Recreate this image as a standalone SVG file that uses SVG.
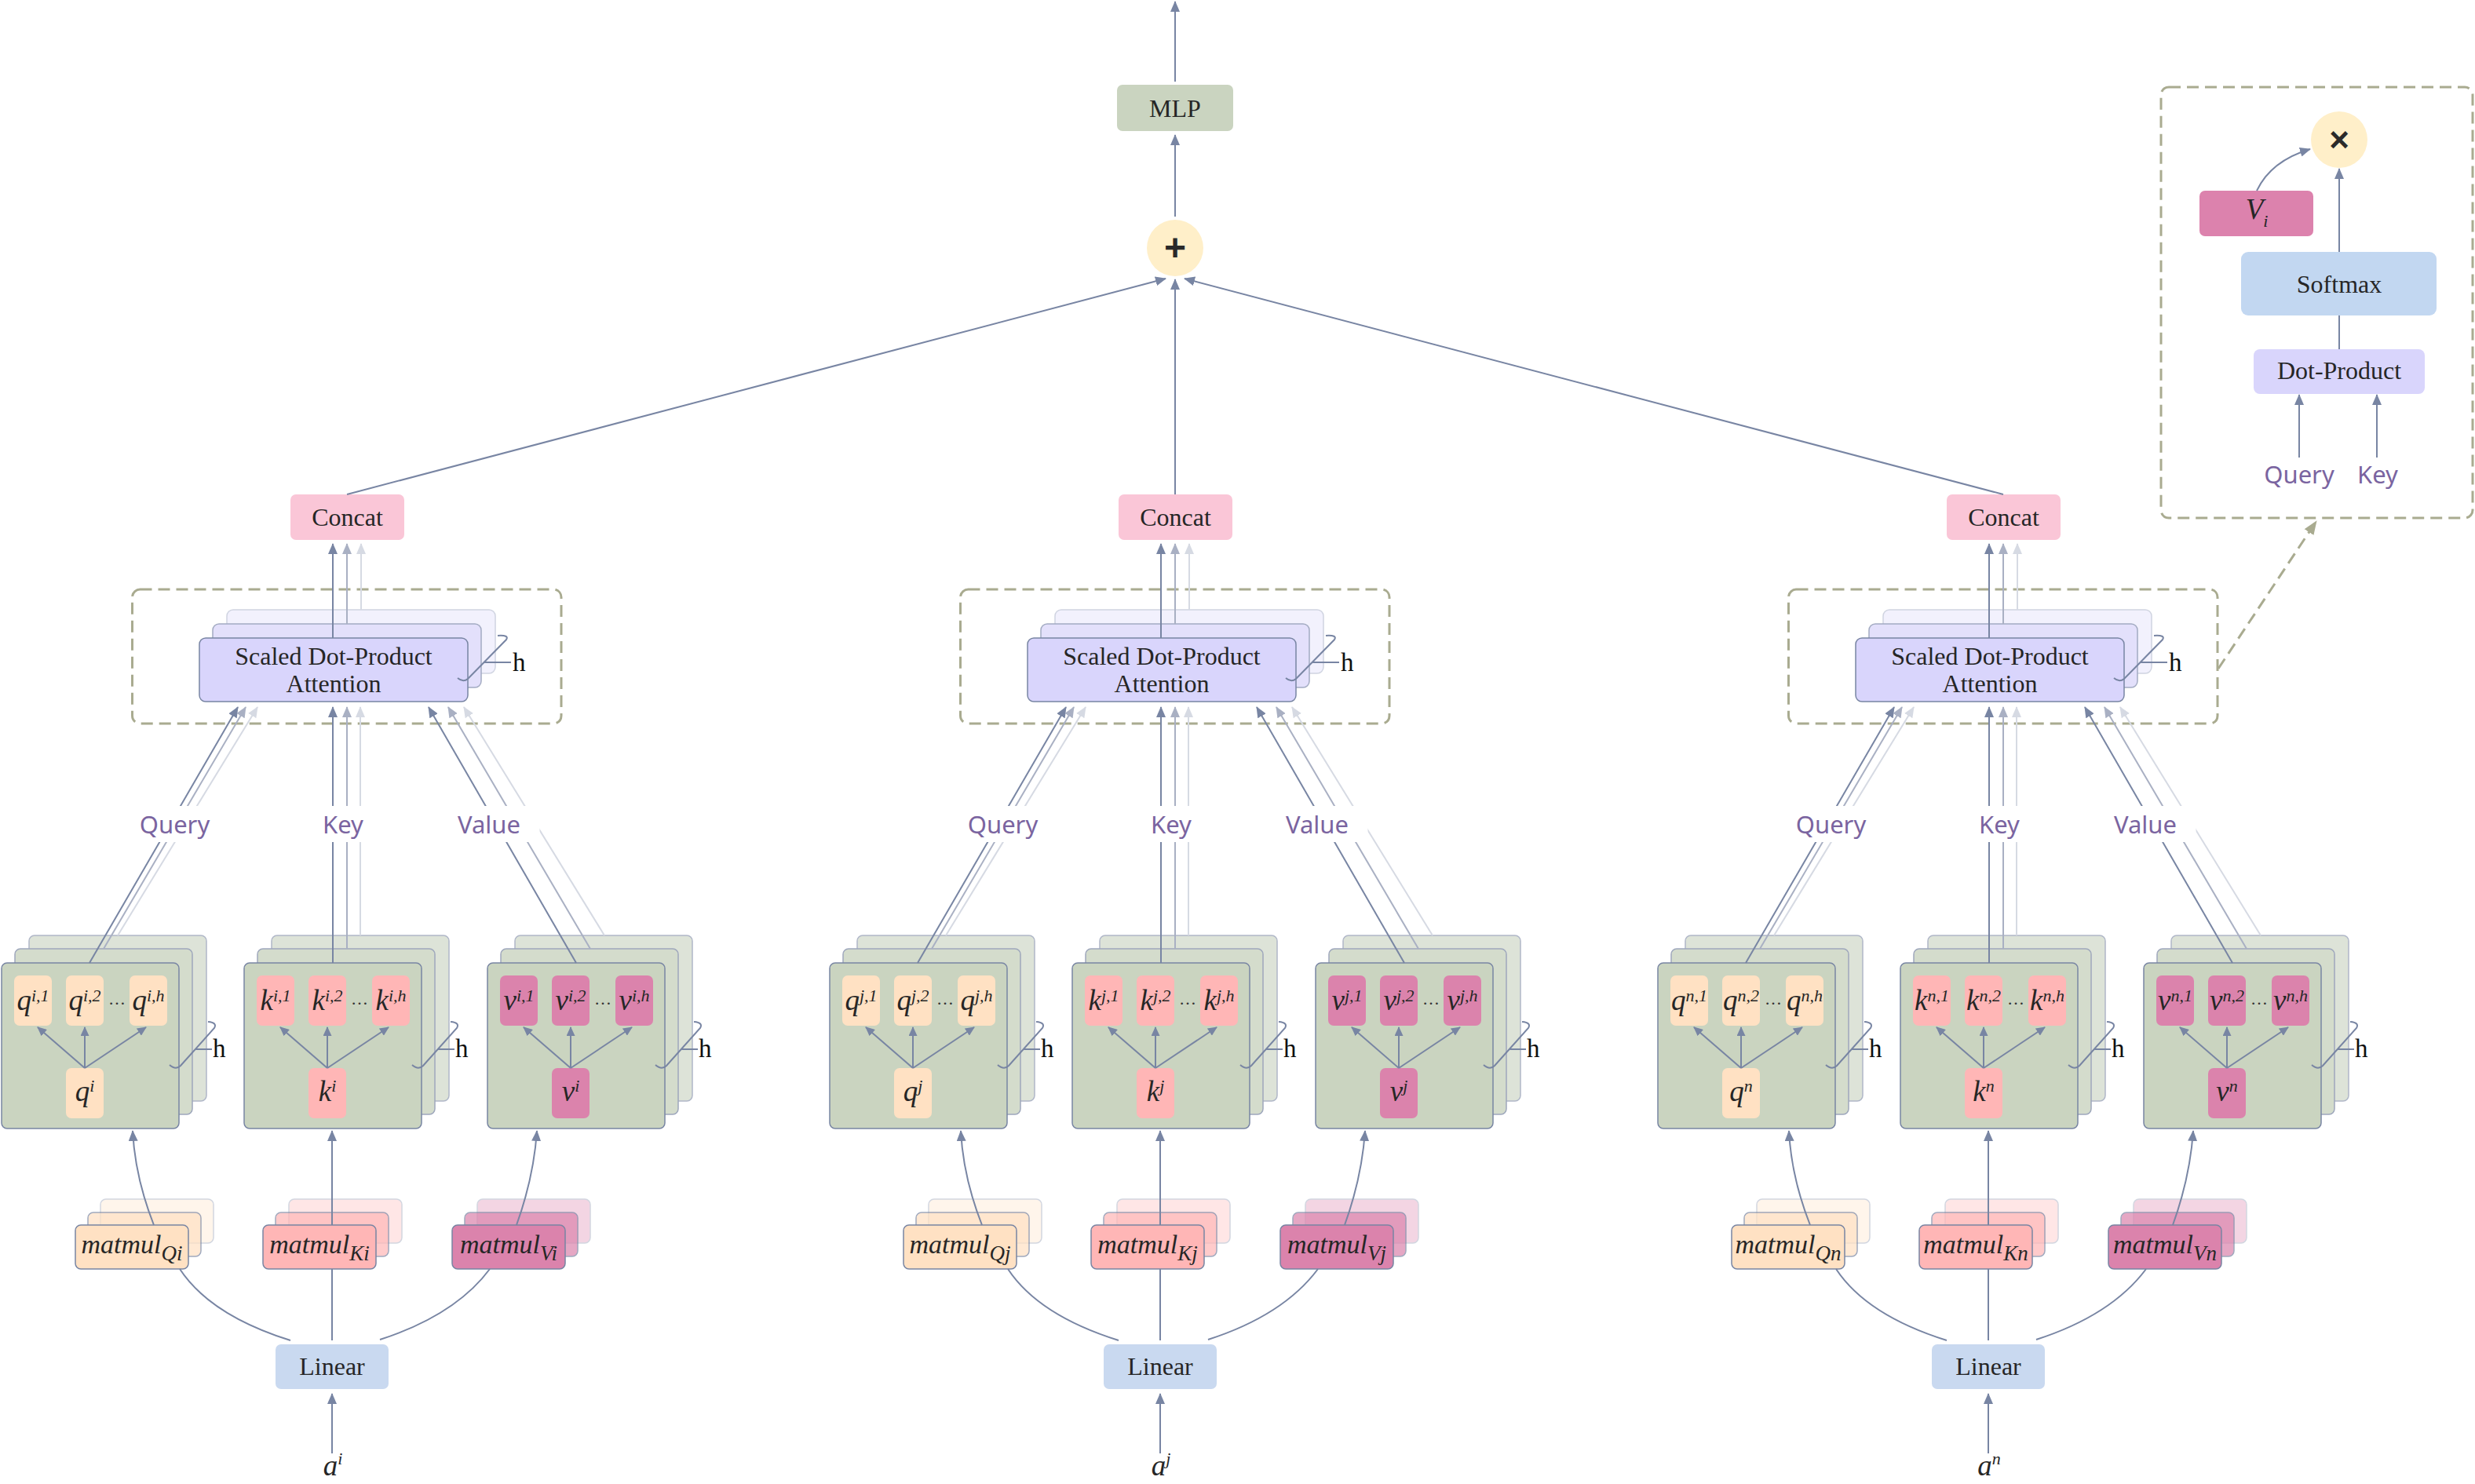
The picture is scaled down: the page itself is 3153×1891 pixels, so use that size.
<svg xmlns="http://www.w3.org/2000/svg" width="3153" height="1891" viewBox="0 0 3153 1891">
<style>
.e1{fill:none;stroke:#7885a3;stroke-width:2;marker-end:url(#ah)}
.e2{fill:none;stroke:#a9b0c3;stroke-width:2;marker-end:url(#ah2)}
.e3{fill:none;stroke:#d6dae3;stroke-width:2;marker-end:url(#ah3)}
.ei{fill:none;stroke:#7885a3;stroke-width:2;marker-end:url(#ahs)}
.s1{fill:none;stroke:#7885a3;stroke-width:2}
.g1{fill:#cad4c0;stroke:#7885a3;stroke-width:1.5}
.g2{fill:#d4dccc;stroke:#9ea7bc;stroke-width:1.5}
.g3{fill:#dde3d8;stroke:#b0b7c8;stroke-width:1.5}
.qb{fill:#ffe1c3}.kb{fill:#ffb6b6}.vb{fill:#db83ac}
.mq{fill:#ffe1c3;stroke:#7885a3;stroke-width:1.5}
.mk{fill:#ffb6b6;stroke:#7885a3;stroke-width:1.5}
.mv{fill:#db83ac;stroke:#7885a3;stroke-width:1.5}
.o7{opacity:.7}.o3{opacity:.33}
.at1{fill:#d9d5fc;stroke:#7885a3;stroke-width:1.5}
.at2{fill:#e3e0fb;stroke:#a3abc2;stroke-width:1.5}
.at3{fill:#f2f1fd;stroke:#d0d4e1;stroke-width:1.5}
.dash{fill:none;stroke:#a9ab90;stroke-width:3;stroke-dasharray:15 8}
.br{fill:none;stroke:#7885a3;stroke-width:2}
.t{font-family:"Liberation Serif","Times New Roman",serif;font-size:32px;fill:#262626;text-anchor:middle}
.i{font-style:italic}
.m{font-size:37px}
.mm{font-size:34px}
.sp{font-size:22px}
.sb{font-size:27px}
.h{font-family:"Liberation Serif","Times New Roman",serif;font-size:33px;fill:#111}
.dots{font-family:"Liberation Serif","Times New Roman",serif;font-size:22px;fill:#333;text-anchor:middle}
.lb{font-family:"Noto Sans","Liberation Sans",sans-serif;font-size:31px;fill:#7a64a0;text-anchor:middle}
.wb{fill:#ffffff}
</style>
<defs>
<marker id="ah" viewBox="0 0 14 12" refX="13" refY="6" markerWidth="14" markerHeight="12" markerUnits="userSpaceOnUse" orient="auto"><path d="M0,0 L14,6 L0,12 z" fill="#7885a3"/></marker>
<marker id="ah2" viewBox="0 0 14 12" refX="13" refY="6" markerWidth="14" markerHeight="12" markerUnits="userSpaceOnUse" orient="auto"><path d="M0,0 L14,6 L0,12 z" fill="#a9b0c3"/></marker>
<marker id="ah3" viewBox="0 0 14 12" refX="13" refY="6" markerWidth="14" markerHeight="12" markerUnits="userSpaceOnUse" orient="auto"><path d="M0,0 L14,6 L0,12 z" fill="#d6dae3"/></marker>
<marker id="ahs" viewBox="0 0 12 11" refX="11" refY="5.5" markerWidth="12" markerHeight="11" markerUnits="userSpaceOnUse" orient="auto"><path d="M0,0 L12,5.5 L0,11 z" fill="#7885a3"/></marker>
<marker id="aho" viewBox="0 0 18 14" refX="17" refY="7" markerWidth="18" markerHeight="14" markerUnits="userSpaceOnUse" orient="auto"><path d="M0,0 L18,7 L0,14 z" fill="#a9ab90"/></marker>
</defs>
<rect width="3153" height="1891" fill="#ffffff"/>

<g id="mlp"><rect x="1423" y="108" width="148" height="59" rx="7" fill="#cad4c0"/><text class="t" x="1497" y="149">MLP</text></g>
<g id="add"><circle cx="1497" cy="316" r="36" fill="#ffefc9"/><text x="1497" y="332" font-family="Liberation Sans, Arial, sans-serif" font-weight="bold" font-size="48" text-anchor="middle" fill="#2a2a2a">+</text></g>

<!-- ===== BLOCK i ===== -->
<g id="block-i">
 <g id="attention-i">
  <rect class="dash" x="168.5" y="751" width="546.5" height="171" rx="10"/>
  <rect class="at3" x="289" y="777" width="342" height="81" rx="8"/>
  <rect class="at2" x="271" y="795" width="342" height="81" rx="8"/>
  <rect class="at1" x="254" y="813" width="342" height="81" rx="8"/>
  <text class="t" x="425" y="847">Scaled Dot-Product</text>
  <text class="t" x="425" y="882">Attention</text>
  <path class="br" d="M583,864 Q590,870 596,865 L645,815 Q649,809 634,810 M617,844 H651"/>
  <text class="h" x="653" y="855">h</text>
 </g>
 <g id="concat-i"><rect x="370" y="630" width="145" height="58" rx="7" fill="#fac6d7"/><text class="t" x="442.5" y="670">Concat</text></g>
 <g id="q-heads-i">
  <rect class="g3" x="37" y="1192" width="226" height="211" rx="7"/>
  <rect class="g2" x="19" y="1209" width="226" height="211" rx="7"/>
  <rect class="g1" x="2" y="1227" width="226" height="211" rx="7"/>
  <rect class="qb" x="18" y="1243" width="48" height="64" rx="7"/>
  <rect class="qb" x="84" y="1243" width="48" height="64" rx="7"/>
  <rect class="qb" x="165" y="1243" width="48" height="64" rx="7"/>
  <rect class="qb" x="84" y="1361" width="48" height="64" rx="7"/>
  <text class="t i m" x="42" y="1287">q<tspan class="sp" dy="-11">i,1</tspan></text>
  <text class="t i m" x="108" y="1287">q<tspan class="sp" dy="-11">i,2</tspan></text>
  <text class="t i m" x="189" y="1287">q<tspan class="sp" dy="-11">i,h</tspan></text>
  <text class="t i m" x="108" y="1403">q<tspan class="sp" dy="-12">i</tspan></text>
  <text class="dots" x="149" y="1280">…</text>
  <path class="br" d="M216,1357 Q224,1364 230,1358 L273,1310 Q277,1303 265,1302 M249,1337 H270"/>
  <text class="h" x="271" y="1347">h</text>
 </g>
 <g id="k-heads-i">
  <rect class="g3" x="346" y="1192" width="226" height="211" rx="7"/>
  <rect class="g2" x="328" y="1209" width="226" height="211" rx="7"/>
  <rect class="g1" x="311" y="1227" width="226" height="211" rx="7"/>
  <rect class="kb" x="327" y="1243" width="48" height="64" rx="7"/>
  <rect class="kb" x="393" y="1243" width="48" height="64" rx="7"/>
  <rect class="kb" x="474" y="1243" width="48" height="64" rx="7"/>
  <rect class="kb" x="393" y="1361" width="48" height="64" rx="7"/>
  <text class="t i m" x="351" y="1287">k<tspan class="sp" dy="-11">i,1</tspan></text>
  <text class="t i m" x="417" y="1287">k<tspan class="sp" dy="-11">i,2</tspan></text>
  <text class="t i m" x="498" y="1287">k<tspan class="sp" dy="-11">i,h</tspan></text>
  <text class="t i m" x="417" y="1403">k<tspan class="sp" dy="-12">i</tspan></text>
  <text class="dots" x="458" y="1280">…</text>
  <path class="br" d="M525,1357 Q533,1364 539,1358 L582,1310 Q586,1303 574,1302 M558,1337 H579"/>
  <text class="h" x="580" y="1347">h</text>
 </g>
 <g id="v-heads-i">
  <rect class="g3" x="656" y="1192" width="226" height="211" rx="7"/>
  <rect class="g2" x="638" y="1209" width="226" height="211" rx="7"/>
  <rect class="g1" x="621" y="1227" width="226" height="211" rx="7"/>
  <rect class="vb" x="637" y="1243" width="48" height="64" rx="7"/>
  <rect class="vb" x="703" y="1243" width="48" height="64" rx="7"/>
  <rect class="vb" x="784" y="1243" width="48" height="64" rx="7"/>
  <rect class="vb" x="703" y="1361" width="48" height="64" rx="7"/>
  <text class="t i m" x="661" y="1287">v<tspan class="sp" dy="-11">i,1</tspan></text>
  <text class="t i m" x="727" y="1287">v<tspan class="sp" dy="-11">i,2</tspan></text>
  <text class="t i m" x="808" y="1287">v<tspan class="sp" dy="-11">i,h</tspan></text>
  <text class="t i m" x="727" y="1403">v<tspan class="sp" dy="-12">i</tspan></text>
  <text class="dots" x="768" y="1280">…</text>
  <path class="br" d="M835,1357 Q843,1364 849,1358 L892,1310 Q896,1303 884,1302 M868,1337 H889"/>
  <text class="h" x="890" y="1347">h</text>
 </g>
 <g id="matmul-q-i">
  <rect class="mq o3" x="128" y="1528" width="144" height="56" rx="7"/>
  <rect class="mq o7" x="112" y="1545" width="144" height="56" rx="7"/>
  <rect class="mq" x="96" y="1561" width="144" height="56" rx="7"/>
  <text class="t i mm" x="168" y="1597">matmul<tspan class="sb" dy="9">Qi</tspan></text>
 </g>
 <g id="matmul-k-i">
  <rect class="mk o3" x="368" y="1528" width="144" height="56" rx="7"/>
  <rect class="mk o7" x="351" y="1545" width="144" height="56" rx="7"/>
  <rect class="mk" x="335" y="1561" width="144" height="56" rx="7"/>
  <text class="t i mm" x="407" y="1597">matmul<tspan class="sb" dy="9">Ki</tspan></text>
 </g>
 <g id="matmul-v-i">
  <rect class="mv o3" x="608" y="1528" width="144" height="56" rx="7"/>
  <rect class="mv o7" x="592" y="1545" width="144" height="56" rx="7"/>
  <rect class="mv" x="576" y="1561" width="144" height="56" rx="7"/>
  <text class="t i mm" x="648" y="1597">matmul<tspan class="sb" dy="9">Vi</tspan></text>
 </g>
 <g id="linear-i"><rect x="351" y="1713" width="144" height="57" rx="7" fill="#c9d9f0"/><text class="t" x="423" y="1752">Linear</text></g>
 <g id="input-i"><text class="t i m" x="424" y="1880">a<tspan class="sp" dy="-14">i</tspan></text></g>
</g>

<!-- ===== BLOCK j ===== -->
<g id="block-j" transform="translate(1055,0)">
 <g id="attention-j">
  <rect class="dash" x="168.5" y="751" width="546.5" height="171" rx="10"/>
  <rect class="at3" x="289" y="777" width="342" height="81" rx="8"/>
  <rect class="at2" x="271" y="795" width="342" height="81" rx="8"/>
  <rect class="at1" x="254" y="813" width="342" height="81" rx="8"/>
  <text class="t" x="425" y="847">Scaled Dot-Product</text>
  <text class="t" x="425" y="882">Attention</text>
  <path class="br" d="M583,864 Q590,870 596,865 L645,815 Q649,809 634,810 M617,844 H651"/>
  <text class="h" x="653" y="855">h</text>
 </g>
 <g id="concat-j"><rect x="370" y="630" width="145" height="58" rx="7" fill="#fac6d7"/><text class="t" x="442.5" y="670">Concat</text></g>
 <g id="q-heads-j">
  <rect class="g3" x="37" y="1192" width="226" height="211" rx="7"/>
  <rect class="g2" x="19" y="1209" width="226" height="211" rx="7"/>
  <rect class="g1" x="2" y="1227" width="226" height="211" rx="7"/>
  <rect class="qb" x="18" y="1243" width="48" height="64" rx="7"/>
  <rect class="qb" x="84" y="1243" width="48" height="64" rx="7"/>
  <rect class="qb" x="165" y="1243" width="48" height="64" rx="7"/>
  <rect class="qb" x="84" y="1361" width="48" height="64" rx="7"/>
  <text class="t i m" x="42" y="1287">q<tspan class="sp" dy="-11">j,1</tspan></text>
  <text class="t i m" x="108" y="1287">q<tspan class="sp" dy="-11">j,2</tspan></text>
  <text class="t i m" x="189" y="1287">q<tspan class="sp" dy="-11">j,h</tspan></text>
  <text class="t i m" x="108" y="1403">q<tspan class="sp" dy="-12">j</tspan></text>
  <text class="dots" x="149" y="1280">…</text>
  <path class="br" d="M216,1357 Q224,1364 230,1358 L273,1310 Q277,1303 265,1302 M249,1337 H270"/>
  <text class="h" x="271" y="1347">h</text>
 </g>
 <g id="k-heads-j">
  <rect class="g3" x="346" y="1192" width="226" height="211" rx="7"/>
  <rect class="g2" x="328" y="1209" width="226" height="211" rx="7"/>
  <rect class="g1" x="311" y="1227" width="226" height="211" rx="7"/>
  <rect class="kb" x="327" y="1243" width="48" height="64" rx="7"/>
  <rect class="kb" x="393" y="1243" width="48" height="64" rx="7"/>
  <rect class="kb" x="474" y="1243" width="48" height="64" rx="7"/>
  <rect class="kb" x="393" y="1361" width="48" height="64" rx="7"/>
  <text class="t i m" x="351" y="1287">k<tspan class="sp" dy="-11">j,1</tspan></text>
  <text class="t i m" x="417" y="1287">k<tspan class="sp" dy="-11">j,2</tspan></text>
  <text class="t i m" x="498" y="1287">k<tspan class="sp" dy="-11">j,h</tspan></text>
  <text class="t i m" x="417" y="1403">k<tspan class="sp" dy="-12">j</tspan></text>
  <text class="dots" x="458" y="1280">…</text>
  <path class="br" d="M525,1357 Q533,1364 539,1358 L582,1310 Q586,1303 574,1302 M558,1337 H579"/>
  <text class="h" x="580" y="1347">h</text>
 </g>
 <g id="v-heads-j">
  <rect class="g3" x="656" y="1192" width="226" height="211" rx="7"/>
  <rect class="g2" x="638" y="1209" width="226" height="211" rx="7"/>
  <rect class="g1" x="621" y="1227" width="226" height="211" rx="7"/>
  <rect class="vb" x="637" y="1243" width="48" height="64" rx="7"/>
  <rect class="vb" x="703" y="1243" width="48" height="64" rx="7"/>
  <rect class="vb" x="784" y="1243" width="48" height="64" rx="7"/>
  <rect class="vb" x="703" y="1361" width="48" height="64" rx="7"/>
  <text class="t i m" x="661" y="1287">v<tspan class="sp" dy="-11">j,1</tspan></text>
  <text class="t i m" x="727" y="1287">v<tspan class="sp" dy="-11">j,2</tspan></text>
  <text class="t i m" x="808" y="1287">v<tspan class="sp" dy="-11">j,h</tspan></text>
  <text class="t i m" x="727" y="1403">v<tspan class="sp" dy="-12">j</tspan></text>
  <text class="dots" x="768" y="1280">…</text>
  <path class="br" d="M835,1357 Q843,1364 849,1358 L892,1310 Q896,1303 884,1302 M868,1337 H889"/>
  <text class="h" x="890" y="1347">h</text>
 </g>
 <g id="matmul-q-j">
  <rect class="mq o3" x="128" y="1528" width="144" height="56" rx="7"/>
  <rect class="mq o7" x="112" y="1545" width="144" height="56" rx="7"/>
  <rect class="mq" x="96" y="1561" width="144" height="56" rx="7"/>
  <text class="t i mm" x="168" y="1597">matmul<tspan class="sb" dy="9">Qj</tspan></text>
 </g>
 <g id="matmul-k-j">
  <rect class="mk o3" x="368" y="1528" width="144" height="56" rx="7"/>
  <rect class="mk o7" x="351" y="1545" width="144" height="56" rx="7"/>
  <rect class="mk" x="335" y="1561" width="144" height="56" rx="7"/>
  <text class="t i mm" x="407" y="1597">matmul<tspan class="sb" dy="9">Kj</tspan></text>
 </g>
 <g id="matmul-v-j">
  <rect class="mv o3" x="608" y="1528" width="144" height="56" rx="7"/>
  <rect class="mv o7" x="592" y="1545" width="144" height="56" rx="7"/>
  <rect class="mv" x="576" y="1561" width="144" height="56" rx="7"/>
  <text class="t i mm" x="648" y="1597">matmul<tspan class="sb" dy="9">Vj</tspan></text>
 </g>
 <g id="linear-j"><rect x="351" y="1713" width="144" height="57" rx="7" fill="#c9d9f0"/><text class="t" x="423" y="1752">Linear</text></g>
 <g id="input-j"><text class="t i m" x="424" y="1880">a<tspan class="sp" dy="-14">j</tspan></text></g>
</g>

<!-- ===== BLOCK n ===== -->
<g id="block-n" transform="translate(2110,0)">
 <g id="attention-n">
  <rect class="dash" x="168.5" y="751" width="546.5" height="171" rx="10"/>
  <rect class="at3" x="289" y="777" width="342" height="81" rx="8"/>
  <rect class="at2" x="271" y="795" width="342" height="81" rx="8"/>
  <rect class="at1" x="254" y="813" width="342" height="81" rx="8"/>
  <text class="t" x="425" y="847">Scaled Dot-Product</text>
  <text class="t" x="425" y="882">Attention</text>
  <path class="br" d="M583,864 Q590,870 596,865 L645,815 Q649,809 634,810 M617,844 H651"/>
  <text class="h" x="653" y="855">h</text>
 </g>
 <g id="concat-n"><rect x="370" y="630" width="145" height="58" rx="7" fill="#fac6d7"/><text class="t" x="442.5" y="670">Concat</text></g>
 <g id="q-heads-n">
  <rect class="g3" x="37" y="1192" width="226" height="211" rx="7"/>
  <rect class="g2" x="19" y="1209" width="226" height="211" rx="7"/>
  <rect class="g1" x="2" y="1227" width="226" height="211" rx="7"/>
  <rect class="qb" x="18" y="1243" width="48" height="64" rx="7"/>
  <rect class="qb" x="84" y="1243" width="48" height="64" rx="7"/>
  <rect class="qb" x="165" y="1243" width="48" height="64" rx="7"/>
  <rect class="qb" x="84" y="1361" width="48" height="64" rx="7"/>
  <text class="t i m" x="42" y="1287">q<tspan class="sp" dy="-11">n,1</tspan></text>
  <text class="t i m" x="108" y="1287">q<tspan class="sp" dy="-11">n,2</tspan></text>
  <text class="t i m" x="189" y="1287">q<tspan class="sp" dy="-11">n,h</tspan></text>
  <text class="t i m" x="108" y="1403">q<tspan class="sp" dy="-12">n</tspan></text>
  <text class="dots" x="149" y="1280">…</text>
  <path class="br" d="M216,1357 Q224,1364 230,1358 L273,1310 Q277,1303 265,1302 M249,1337 H270"/>
  <text class="h" x="271" y="1347">h</text>
 </g>
 <g id="k-heads-n">
  <rect class="g3" x="346" y="1192" width="226" height="211" rx="7"/>
  <rect class="g2" x="328" y="1209" width="226" height="211" rx="7"/>
  <rect class="g1" x="311" y="1227" width="226" height="211" rx="7"/>
  <rect class="kb" x="327" y="1243" width="48" height="64" rx="7"/>
  <rect class="kb" x="393" y="1243" width="48" height="64" rx="7"/>
  <rect class="kb" x="474" y="1243" width="48" height="64" rx="7"/>
  <rect class="kb" x="393" y="1361" width="48" height="64" rx="7"/>
  <text class="t i m" x="351" y="1287">k<tspan class="sp" dy="-11">n,1</tspan></text>
  <text class="t i m" x="417" y="1287">k<tspan class="sp" dy="-11">n,2</tspan></text>
  <text class="t i m" x="498" y="1287">k<tspan class="sp" dy="-11">n,h</tspan></text>
  <text class="t i m" x="417" y="1403">k<tspan class="sp" dy="-12">n</tspan></text>
  <text class="dots" x="458" y="1280">…</text>
  <path class="br" d="M525,1357 Q533,1364 539,1358 L582,1310 Q586,1303 574,1302 M558,1337 H579"/>
  <text class="h" x="580" y="1347">h</text>
 </g>
 <g id="v-heads-n">
  <rect class="g3" x="656" y="1192" width="226" height="211" rx="7"/>
  <rect class="g2" x="638" y="1209" width="226" height="211" rx="7"/>
  <rect class="g1" x="621" y="1227" width="226" height="211" rx="7"/>
  <rect class="vb" x="637" y="1243" width="48" height="64" rx="7"/>
  <rect class="vb" x="703" y="1243" width="48" height="64" rx="7"/>
  <rect class="vb" x="784" y="1243" width="48" height="64" rx="7"/>
  <rect class="vb" x="703" y="1361" width="48" height="64" rx="7"/>
  <text class="t i m" x="661" y="1287">v<tspan class="sp" dy="-11">n,1</tspan></text>
  <text class="t i m" x="727" y="1287">v<tspan class="sp" dy="-11">n,2</tspan></text>
  <text class="t i m" x="808" y="1287">v<tspan class="sp" dy="-11">n,h</tspan></text>
  <text class="t i m" x="727" y="1403">v<tspan class="sp" dy="-12">n</tspan></text>
  <text class="dots" x="768" y="1280">…</text>
  <path class="br" d="M835,1357 Q843,1364 849,1358 L892,1310 Q896,1303 884,1302 M868,1337 H889"/>
  <text class="h" x="890" y="1347">h</text>
 </g>
 <g id="matmul-q-n">
  <rect class="mq o3" x="128" y="1528" width="144" height="56" rx="7"/>
  <rect class="mq o7" x="112" y="1545" width="144" height="56" rx="7"/>
  <rect class="mq" x="96" y="1561" width="144" height="56" rx="7"/>
  <text class="t i mm" x="168" y="1597">matmul<tspan class="sb" dy="9">Qn</tspan></text>
 </g>
 <g id="matmul-k-n">
  <rect class="mk o3" x="368" y="1528" width="144" height="56" rx="7"/>
  <rect class="mk o7" x="351" y="1545" width="144" height="56" rx="7"/>
  <rect class="mk" x="335" y="1561" width="144" height="56" rx="7"/>
  <text class="t i mm" x="407" y="1597">matmul<tspan class="sb" dy="9">Kn</tspan></text>
 </g>
 <g id="matmul-v-n">
  <rect class="mv o3" x="608" y="1528" width="144" height="56" rx="7"/>
  <rect class="mv o7" x="592" y="1545" width="144" height="56" rx="7"/>
  <rect class="mv" x="576" y="1561" width="144" height="56" rx="7"/>
  <text class="t i mm" x="648" y="1597">matmul<tspan class="sb" dy="9">Vn</tspan></text>
 </g>
 <g id="linear-n"><rect x="351" y="1713" width="144" height="57" rx="7" fill="#c9d9f0"/><text class="t" x="423" y="1752">Linear</text></g>
 <g id="input-n"><text class="t i m" x="424" y="1880">a<tspan class="sp" dy="-14">n</tspan></text></g>
</g>

<!-- ===== INSET ===== -->
<g id="inset">
 <rect class="dash" x="2753" y="111" width="397" height="549" rx="10"/>
 <g id="mul"><circle cx="2980" cy="178" r="36" fill="#ffefc9"/><text x="2980" y="193" font-family="Liberation Sans, Arial, sans-serif" font-weight="bold" font-size="44" text-anchor="middle" fill="#2a2a2a">×</text></g>
 <g id="v-input"><rect x="2802" y="243" width="145" height="58" rx="7" fill="#dc82ad"/><text class="t i m" x="2875" y="279">V<tspan font-size="22" dy="10">i</tspan></text></g>
 <g id="softmax"><rect x="2855" y="321" width="249" height="81" rx="9" fill="#c2d7f1"/><text class="t" x="2980" y="373">Softmax</text></g>
 <g id="dot-product"><rect x="2871" y="445" width="218" height="57" rx="8" fill="#d9d5fc"/><text class="t" x="2980" y="483">Dot-Product</text></g>
 <g id="inset-query"><text class="lb" x="2929" y="616">Query</text></g>
 <g id="inset-key"><text class="lb" x="3029" y="616">Key</text></g>
</g>

<!-- ===== CONNECTORS ===== -->
<g id="connectors">
 <line class="e1" x1="1497" y1="104" x2="1497" y2="2"/>
 <line class="e1" x1="1497" y1="276" x2="1497" y2="172"/>
 <line class="e1" x1="442" y1="630" x2="1485" y2="355"/>
 <line class="e1" x1="1497" y1="630" x2="1497" y2="356"/>
 <line class="e1" x1="2552" y1="630" x2="1509" y2="355"/>
 <path class="e1" d="M2875,243 Q2893,205 2943,190"/>
 <line class="e1" x1="2980" y1="321" x2="2980" y2="215"/>
 <line class="s1" x1="2980" y1="402" x2="2980" y2="445"/>
 <line class="e1" x1="2929" y1="583" x2="2929" y2="503"/>
 <line class="e1" x1="3028" y1="583" x2="3028" y2="503"/>
 <line x1="2826" y1="852" x2="2951" y2="664" stroke="#a9ab90" stroke-width="3" stroke-dasharray="15 8" marker-end="url(#aho)"/>

 <g id="edges-i">
  <line class="e1" x1="114" y1="1227" x2="303" y2="901"/>
  <line class="e2" x1="132" y1="1209" x2="313" y2="901"/>
  <line class="e3" x1="150" y1="1192" x2="328" y2="901"/>
  <line class="e1" x1="424" y1="1227" x2="424" y2="901"/>
  <line class="e2" x1="442" y1="1209" x2="442" y2="901"/>
  <line class="e3" x1="459" y1="1192" x2="459" y2="901"/>
  <line class="e1" x1="734" y1="1227" x2="546" y2="901"/>
  <line class="e2" x1="752" y1="1209" x2="571" y2="901"/>
  <line class="e3" x1="770" y1="1192" x2="591" y2="901"/>
  <line class="e1" x1="424" y1="813" x2="424" y2="693"/>
  <line class="e2" x1="442" y1="795" x2="442" y2="693"/>
  <line class="e3" x1="460" y1="777" x2="460" y2="693"/>
  <line class="e1" x1="423" y1="1852" x2="423" y2="1776"/>
  <path class="s1" d="M370,1708 Q268,1676 229,1617"/>
  <path class="e1" d="M196,1561 Q172,1500 169,1441"/>
  <line class="s1" x1="423" y1="1708" x2="423" y2="1617"/>
  <line class="e1" x1="423" y1="1561" x2="423" y2="1441"/>
  <path class="s1" d="M484,1707 Q580,1676 624,1617"/>
  <path class="e1" d="M658,1561 Q680,1500 684,1441"/>
  <line class="ei" x1="108" y1="1361" x2="48" y2="1309"/>
  <line class="ei" x1="108" y1="1361" x2="108" y2="1309"/>
  <line class="ei" x1="108" y1="1361" x2="186" y2="1309"/>
  <line class="ei" x1="417" y1="1361" x2="357" y2="1309"/>
  <line class="ei" x1="417" y1="1361" x2="417" y2="1309"/>
  <line class="ei" x1="417" y1="1361" x2="495" y2="1309"/>
  <line class="ei" x1="727" y1="1361" x2="667" y2="1309"/>
  <line class="ei" x1="727" y1="1361" x2="727" y2="1309"/>
  <line class="ei" x1="727" y1="1361" x2="805" y2="1309"/>
  <g id="label-query-i"><rect class="wb" x="158" y="1027" width="129" height="46"/><text class="lb" x="222.5" y="1062">Query</text></g>
  <g id="label-key-i"><rect class="wb" x="372.5" y="1027" width="129" height="46"/><text class="lb" x="437" y="1062">Key</text></g>
  <g id="label-value-i"><rect class="wb" x="558.5" y="1027" width="129" height="46"/><text class="lb" x="623" y="1062">Value</text></g>
 </g>

 <g id="edges-j" transform="translate(1055,0)">
  <line class="e1" x1="114" y1="1227" x2="303" y2="901"/>
  <line class="e2" x1="132" y1="1209" x2="313" y2="901"/>
  <line class="e3" x1="150" y1="1192" x2="328" y2="901"/>
  <line class="e1" x1="424" y1="1227" x2="424" y2="901"/>
  <line class="e2" x1="442" y1="1209" x2="442" y2="901"/>
  <line class="e3" x1="459" y1="1192" x2="459" y2="901"/>
  <line class="e1" x1="734" y1="1227" x2="546" y2="901"/>
  <line class="e2" x1="752" y1="1209" x2="571" y2="901"/>
  <line class="e3" x1="770" y1="1192" x2="591" y2="901"/>
  <line class="e1" x1="424" y1="813" x2="424" y2="693"/>
  <line class="e2" x1="442" y1="795" x2="442" y2="693"/>
  <line class="e3" x1="460" y1="777" x2="460" y2="693"/>
  <line class="e1" x1="423" y1="1852" x2="423" y2="1776"/>
  <path class="s1" d="M370,1708 Q268,1676 229,1617"/>
  <path class="e1" d="M196,1561 Q172,1500 169,1441"/>
  <line class="s1" x1="423" y1="1708" x2="423" y2="1617"/>
  <line class="e1" x1="423" y1="1561" x2="423" y2="1441"/>
  <path class="s1" d="M484,1707 Q580,1676 624,1617"/>
  <path class="e1" d="M658,1561 Q680,1500 684,1441"/>
  <line class="ei" x1="108" y1="1361" x2="48" y2="1309"/>
  <line class="ei" x1="108" y1="1361" x2="108" y2="1309"/>
  <line class="ei" x1="108" y1="1361" x2="186" y2="1309"/>
  <line class="ei" x1="417" y1="1361" x2="357" y2="1309"/>
  <line class="ei" x1="417" y1="1361" x2="417" y2="1309"/>
  <line class="ei" x1="417" y1="1361" x2="495" y2="1309"/>
  <line class="ei" x1="727" y1="1361" x2="667" y2="1309"/>
  <line class="ei" x1="727" y1="1361" x2="727" y2="1309"/>
  <line class="ei" x1="727" y1="1361" x2="805" y2="1309"/>
  <g id="label-query-j"><rect class="wb" x="158" y="1027" width="129" height="46"/><text class="lb" x="222.5" y="1062">Query</text></g>
  <g id="label-key-j"><rect class="wb" x="372.5" y="1027" width="129" height="46"/><text class="lb" x="437" y="1062">Key</text></g>
  <g id="label-value-j"><rect class="wb" x="558.5" y="1027" width="129" height="46"/><text class="lb" x="623" y="1062">Value</text></g>
 </g>

 <g id="edges-n" transform="translate(2110,0)">
  <line class="e1" x1="114" y1="1227" x2="303" y2="901"/>
  <line class="e2" x1="132" y1="1209" x2="313" y2="901"/>
  <line class="e3" x1="150" y1="1192" x2="328" y2="901"/>
  <line class="e1" x1="424" y1="1227" x2="424" y2="901"/>
  <line class="e2" x1="442" y1="1209" x2="442" y2="901"/>
  <line class="e3" x1="459" y1="1192" x2="459" y2="901"/>
  <line class="e1" x1="734" y1="1227" x2="546" y2="901"/>
  <line class="e2" x1="752" y1="1209" x2="571" y2="901"/>
  <line class="e3" x1="770" y1="1192" x2="591" y2="901"/>
  <line class="e1" x1="424" y1="813" x2="424" y2="693"/>
  <line class="e2" x1="442" y1="795" x2="442" y2="693"/>
  <line class="e3" x1="460" y1="777" x2="460" y2="693"/>
  <line class="e1" x1="423" y1="1852" x2="423" y2="1776"/>
  <path class="s1" d="M370,1708 Q268,1676 229,1617"/>
  <path class="e1" d="M196,1561 Q172,1500 169,1441"/>
  <line class="s1" x1="423" y1="1708" x2="423" y2="1617"/>
  <line class="e1" x1="423" y1="1561" x2="423" y2="1441"/>
  <path class="s1" d="M484,1707 Q580,1676 624,1617"/>
  <path class="e1" d="M658,1561 Q680,1500 684,1441"/>
  <line class="ei" x1="108" y1="1361" x2="48" y2="1309"/>
  <line class="ei" x1="108" y1="1361" x2="108" y2="1309"/>
  <line class="ei" x1="108" y1="1361" x2="186" y2="1309"/>
  <line class="ei" x1="417" y1="1361" x2="357" y2="1309"/>
  <line class="ei" x1="417" y1="1361" x2="417" y2="1309"/>
  <line class="ei" x1="417" y1="1361" x2="495" y2="1309"/>
  <line class="ei" x1="727" y1="1361" x2="667" y2="1309"/>
  <line class="ei" x1="727" y1="1361" x2="727" y2="1309"/>
  <line class="ei" x1="727" y1="1361" x2="805" y2="1309"/>
  <g id="label-query-n"><rect class="wb" x="158" y="1027" width="129" height="46"/><text class="lb" x="222.5" y="1062">Query</text></g>
  <g id="label-key-n"><rect class="wb" x="372.5" y="1027" width="129" height="46"/><text class="lb" x="437" y="1062">Key</text></g>
  <g id="label-value-n"><rect class="wb" x="558.5" y="1027" width="129" height="46"/><text class="lb" x="623" y="1062">Value</text></g>
 </g>
</g>
</svg>
